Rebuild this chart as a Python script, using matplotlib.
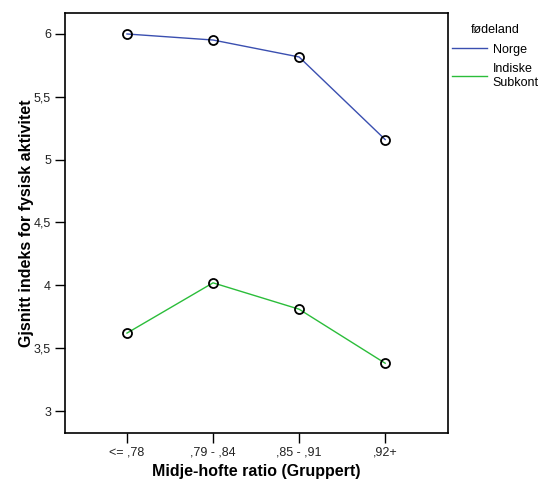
import matplotlib
matplotlib.use('Agg')
import matplotlib.pyplot as plt
from matplotlib.lines import Line2D

plt.rcParams['font.family'] = ['Liberation Sans', 'DejaVu Sans']

# data
groups = ['<= ,78', ',79 - ,84', ',85 - ,91', ',92+']
norge = [6.0, 5.952, 5.817, 5.16]
indiske = [3.62, 4.02, 3.81, 3.38]
yticks = [3, 3.5, 4, 4.5, 5, 5.5, 6]
ytick_labels = ['3', '3,5', '4', '4,5', '5', '5,5', '6']

fig = plt.figure(figsize=(5.43, 4.83), dpi=100)
ax = fig.add_axes([65 / 543, 1 - 433 / 483, 383 / 543, 420 / 483])

x = list(range(len(groups)))
ax.plot(x, norge, color='#3a4fb0', lw=1.0, zorder=2)
ax.plot(x, indiske, color='#2bbd3a', lw=1.0, zorder=2)
ax.plot(x, norge, 'o', mfc='none', mec='black', ms=6.5, mew=1.3, zorder=3)
ax.plot(x, indiske, 'o', mfc='none', mec='black', ms=6.5, mew=1.3, zorder=3)

ax.set_xlim(-0.72, 3.73)
ax.set_ylim(2.825, 6.167)
ax.set_xticks(x)
ax.set_xticklabels(groups, fontsize=9)
ax.set_yticks(yticks)
ax.set_yticklabels(ytick_labels, fontsize=9)
ax.tick_params(direction='out', length=7, width=1, colors='black', labelcolor='#222222', pad=3)
for s in ax.spines.values():
    s.set_linewidth(1.2)

ax.set_xlabel('Midje-hofte ratio (Gruppert)', fontsize=11.5, fontweight='bold', labelpad=4)
ax.set_ylabel('Gjsnitt indeks for fysisk aktivitet', fontsize=11.5, fontweight='bold', labelpad=0)

handles = [Line2D([], [], color='#3a4fb0', lw=1.0),
           Line2D([], [], color='#2bbd3a', lw=1.0)]
leg = fig.legend(handles, ['Norge', 'Indiske\nSubkont'], title='fødeland',
                 loc='upper left', bbox_to_anchor=(452 / 543, 1 - 24 / 483),
                 frameon=False, fontsize=9, title_fontsize=9,
                 handlelength=2.8, handletextpad=0.45, labelspacing=0.6,
                 borderaxespad=0, borderpad=0)

fig.savefig('out.png', dpi=100)
